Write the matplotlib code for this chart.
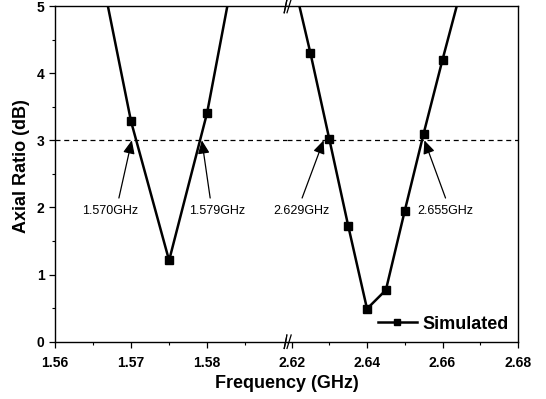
import matplotlib
matplotlib.use("Agg")
import matplotlib.pyplot as plt

plt.rcParams['font.family'] = ['Liberation Sans', 'DejaVu Sans']

# simulated axial ratio, first band (GPS L1) and second band
band1_freq = [1.565, 1.570, 1.575, 1.580, 1.585]
band1_ar = [6.1, 3.28, 1.21, 3.41, 6.4]
band2_freq = [2.620, 2.625, 2.630, 2.635, 2.640, 2.645, 2.650, 2.655, 2.660, 2.665]
band2_ar = [5.5, 4.30, 3.02, 1.73, 0.49, 0.77, 1.95, 3.10, 4.20, 5.26]

band1_ticks = [1.56, 1.57, 1.58]
band2_ticks = [2.62, 2.64, 2.66, 2.68]

# 3 dB crossing labels: (text, arrow tip freq)
band1_marks = [("1.570GHz", 1.5701), ("1.579GHz", 1.5793)]
band2_marks = [("2.629GHz", 2.6285), ("2.655GHz", 2.6552)]

fig = plt.figure(figsize=(5.46, 3.99), dpi=100)
left, right, bottom, top = 55 / 546, 518 / 546, 1 - 341.7 / 399, 1 - 6 / 399
split = 287 / 546
ax1 = fig.add_axes([left, bottom, split - left, top - bottom])
ax2 = fig.add_axes([split, bottom, right - split, top - bottom])

ax1.set_xlim(1.56, 1.5905)
ax2.set_xlim(2.6188, 2.68)
for ax in (ax1, ax2):
    ax.set_ylim(0, 5)
    ax.axhline(3, color='black', lw=0.9, ls=(0, (4, 3)))
    for s in ax.spines.values():
        s.set_linewidth(1.0)
    ax.tick_params(axis='both', which='major', direction='out', length=4, width=0.9,
                   labelsize=10)
    ax.tick_params(axis='x', which='major', pad=6)
    ax.tick_params(axis='both', which='minor', direction='out', length=2, width=0.8)

line_kw = dict(color='black', lw=1.8, marker='s', ms=5.5)
ax1.plot(band1_freq, band1_ar, **line_kw)
ax2.plot(band2_freq, band2_ar, label='Simulated', **line_kw)

ax1.spines['right'].set_visible(False)
ax2.spines['left'].set_visible(False)
ax2.tick_params(axis='y', which='both', left=False, labelleft=False)

ax1.set_xticks(band1_ticks)
ax1.set_xticks([1.565, 1.575, 1.585], minor=True)
ax1.set_xticklabels([f"{t:.2f}" for t in band1_ticks], fontweight='bold')
ax2.set_xticks(band2_ticks)
ax2.set_xticks([2.63, 2.65, 2.67], minor=True)
ax2.set_xticklabels([f"{t:.2f}" for t in band2_ticks], fontweight='bold')
ax1.set_yticks(range(6))
ax1.set_yticks([0.5, 1.5, 2.5, 3.5, 4.5], minor=True)
ax1.set_yticklabels([str(v) for v in range(6)], fontweight='bold')

# break marks
for ax, x0 in ((ax1, 1.0), (ax2, 0.0)):
    for yy in (0.0, 1.0):
        ax.plot([x0 - 0.012, x0 + 0.0], [yy - 0.02, yy + 0.02], transform=ax.transAxes,
                color='black', lw=0.9, clip_on=False)
ax2.plot([0.0, 0.018], [-0.02, 0.02], transform=ax2.transAxes, color='black', lw=0.9, clip_on=False)
ax2.plot([0.0, 0.018], [0.98, 1.02], transform=ax2.transAxes, color='black', lw=0.9, clip_on=False)

arrow_kw = dict(arrowstyle='-|>,head_length=0.8,head_width=0.35', color='black', lw=0.9,
                shrinkA=0, shrinkB=0)
text_y, tail_y = 1.95, 2.14
ax1.annotate('', xy=(band1_marks[0][1], 3.0), xytext=(1.5684, tail_y), arrowprops=arrow_kw)
ax1.text(1.5672, text_y, band1_marks[0][0], ha='center', va='center', fontsize=9)
ax1.annotate('', xy=(band1_marks[1][1], 3.0), xytext=(1.5804, tail_y), arrowprops=arrow_kw)
ax1.text(1.5813, text_y, band1_marks[1][0], ha='center', va='center', fontsize=9)
ax2.annotate('', xy=(band2_marks[0][1], 3.0), xytext=(2.6228, tail_y), arrowprops=arrow_kw)
ax2.text(2.6225, text_y, band2_marks[0][0], ha='center', va='center', fontsize=9)
ax2.annotate('', xy=(band2_marks[1][1], 3.0), xytext=(2.6608, tail_y), arrowprops=arrow_kw)
ax2.text(2.6607, text_y, band2_marks[1][0], ha='center', va='center', fontsize=9)

leg = ax2.legend(loc='lower right', frameon=False, handlelength=2.2, handletextpad=0.3,
                 borderaxespad=0.1, markerscale=0.8, prop={'weight': 'bold', 'size': 13})

fig.text(0.04, (top + bottom) / 2 + 0.02, 'Axial Ratio (dB)', rotation=90, ha='center',
         va='center', fontsize=13, fontweight='bold')
fig.text((left + right) / 2, 0.04, 'Frequency (GHz)', ha='center', va='center',
         fontsize=13, fontweight='bold')

fig.savefig('out.png', dpi=100)
